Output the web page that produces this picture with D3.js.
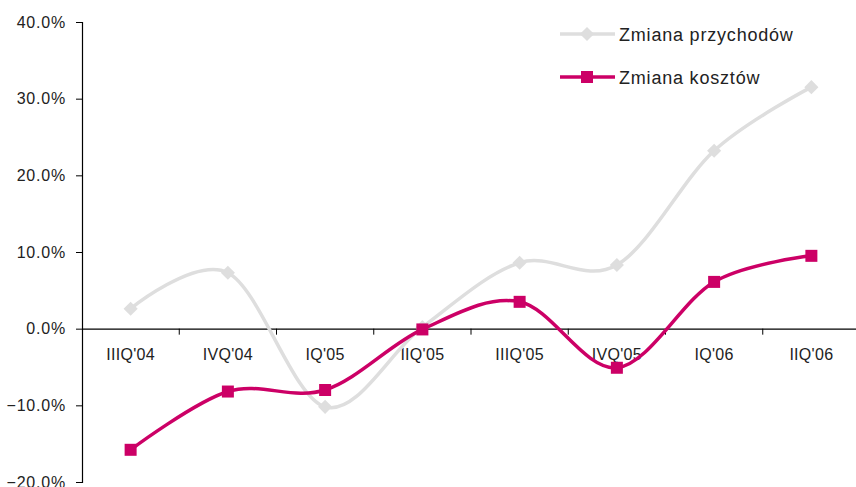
<!DOCTYPE html>
<html>
<head>
<meta charset="utf-8">
<script src="https://cdn.jsdelivr.net/npm/d3@7/dist/d3.min.js"></script>
<style>
  html, body { margin: 0; padding: 0; background: #fff; }
  svg { display: block; }
  text { font-family: "Liberation Sans", Arial, Helvetica, sans-serif; fill: #222; }
</style>
</head>
<body>
<script>
// Quarterly change in revenue and costs
const quarters = ["IIIQ'04", "IVQ'04", "IQ'05", "IIQ'05", "IIIQ'05", "IVQ'05", "IQ'06", "IIQ'06"];
const revenueChange = [2.6, 7.3, -10.2, 0.2, 8.6, 8.3, 23.2, 31.5];
const costChange = [-15.8, -8.2, -8.0, -0.1, 3.5, -5.1, 6.1, 9.5];
const yTicks = [-20, -10, 0, 10, 20, 30, 40];
const seriesNames = ["Zmiana przychodów", "Zmiana kosztów"];

const W = 856, H = 487;
const plotLeft = 82, plotRight = 860, plotTop = 22, plotBottom = 482;

const svg = d3.select("body").append("svg").attr("width", W).attr("height", H);

const x = d3.scaleBand().domain(quarters).range([plotLeft, plotRight]);
const y = d3.scaleLinear().domain([-20, 40]).range([plotBottom, plotTop]);

// Vertical value axis
const yAxis = d3.axisLeft(y).tickValues(yTicks).tickSize(6).tickPadding(10)
  .tickFormat(d => d3.format(".1f")(d) + "%");
const gy = svg.append("g").attr("transform", `translate(${plotLeft},0)`).call(yAxis);
gy.select(".domain").attr("stroke", "#000").attr("stroke-width", 1.2);
gy.selectAll(".tick line").attr("stroke", "#000");
gy.selectAll(".tick text").attr("font-size", 16).attr("fill", "#222")
  .attr("font-family", "'Liberation Sans', Arial, sans-serif")
  .attr("letter-spacing", "0.8");

// Category axis along the zero line
const xAxis = d3.axisBottom(x).tickSize(6).tickSizeOuter(0).tickPadding(14);
const gx = svg.append("g").attr("transform", `translate(0,${y(0)})`).call(xAxis);
gx.select(".domain").attr("stroke", "#000").attr("stroke-width", 1.2);
gx.selectAll(".tick line").attr("stroke", "#000")
  .attr("transform", `translate(${x.bandwidth() / 2},0)`);
gx.selectAll(".tick text").attr("font-size", 16).attr("fill", "#222")
  .attr("font-family", "'Liberation Sans', Arial, sans-serif")
  .attr("letter-spacing", "0.3");

const cx = d => x(d) + x.bandwidth() / 2;
const line = d3.line().x(d => cx(d.q)).y(d => y(d.v)).curve(d3.curveCardinal.tension(0));

const rev = quarters.map((q, i) => ({ q, v: revenueChange[i] }));
const cost = quarters.map((q, i) => ({ q, v: costChange[i] }));

const grey = "#dedede", pink = "#cc0066";
const diamond = d3.symbol(d3.symbolSquare, 100);

// Revenue series
svg.append("path").datum(rev).attr("d", line)
  .attr("fill", "none").attr("stroke", grey).attr("stroke-width", 3.5);
svg.selectAll(".rev-marker").data(rev).enter().append("path")
  .attr("class", "rev-marker")
  .attr("d", diamond)
  .attr("transform", d => `translate(${cx(d.q)},${y(d.v)}) rotate(45)`)
  .attr("fill", grey);

// Cost series
svg.append("path").datum(cost).attr("d", line)
  .attr("fill", "none").attr("stroke", pink).attr("stroke-width", 3.5);
svg.selectAll(".cost-marker").data(cost).enter().append("rect")
  .attr("class", "cost-marker")
  .attr("x", d => cx(d.q) - 6).attr("y", d => y(d.v) - 6)
  .attr("width", 12).attr("height", 12)
  .attr("fill", pink);

// Legend
const legend = svg.append("g");
const items = [
  { name: seriesNames[0], color: grey, marker: "diamond", yy: 34 },
  { name: seriesNames[1], color: pink, marker: "square", yy: 77 }
];
items.forEach(it => {
  legend.append("line").attr("x1", 560).attr("x2", 615).attr("y1", it.yy).attr("y2", it.yy)
    .attr("stroke", it.color).attr("stroke-width", 3.5);
  if (it.marker === "diamond") {
    legend.append("path").attr("d", diamond)
      .attr("transform", `translate(587,${it.yy}) rotate(45)`).attr("fill", it.color);
  } else {
    legend.append("rect").attr("x", 581).attr("y", it.yy - 6).attr("width", 12).attr("height", 12)
      .attr("fill", it.color);
  }
  legend.append("text").attr("x", 619).attr("y", it.yy + 7).attr("font-size", 18)
    .attr("letter-spacing", "0.8")
    .text(it.name);
});
</script>
</body>
</html>
